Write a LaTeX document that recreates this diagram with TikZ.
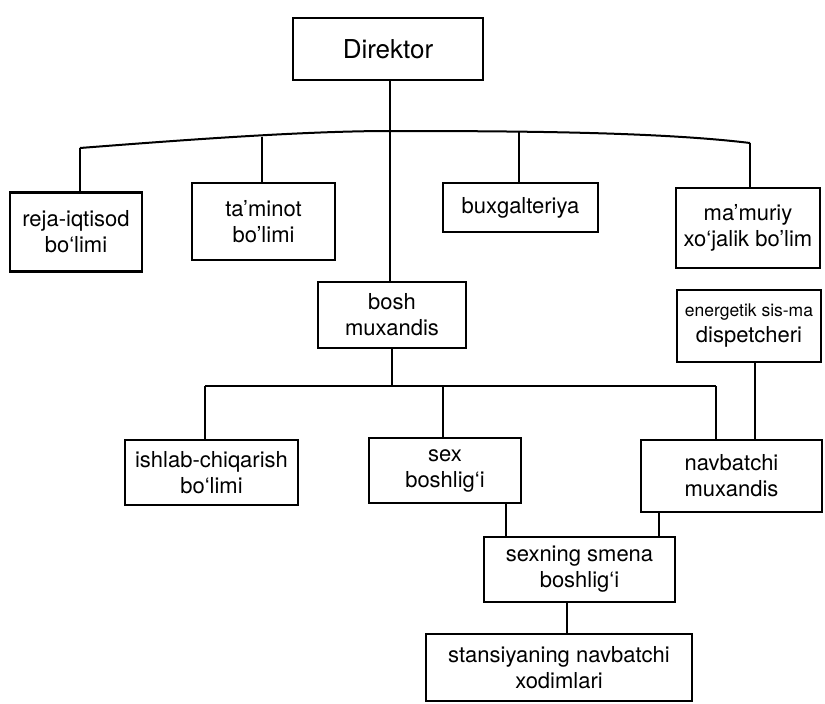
\documentclass[tikz,border=0pt]{standalone}
\usepackage{fontspec}
\setmainfont{TeX Gyre Heros}
\begin{document}
\begin{tikzpicture}[x=1pt,y=-1pt,
  box/.style={draw=black,line width=2.6pt,align=center,inner sep=0pt,font=\fontsize{22}{26}\selectfont},
  conn/.style={draw=black,line width=2pt}]
\useasboundingbox[fill=white] (0,0) rectangle (825,704);
% boxes
\node[box,minimum width=190,minimum height=62,font=\fontsize{26}{30}\selectfont] (dir) at (388,49) {Direktor};
\node[box,minimum width=132,minimum height=79] (reja) at (76,232) {reja-iqtisod\\bo‘limi};
\node[box,minimum width=143,minimum height=77] (tam) at (263.5,221.5) {ta'minot\\bo'limi};
\node[box,minimum width=155,minimum height=49] (bux) at (520.5,207.5) {buxgalteriya};
\node[box,minimum width=144,minimum height=80] (mam) at (748,228) {ma'muriy\\xo‘jalik bo'lim};
\node[box,minimum width=148,minimum height=66] (bosh) at (392,315) {bosh\\muxandis};
\node[box,minimum width=144,minimum height=72] (ener) at (749,326) {{\fontsize{17.5}{22}\selectfont energetik sis-ma}\\dispetcheri};
\node[box,minimum width=173,minimum height=65] (ish) at (211.5,472.5) {ishlab-chiqarish\\bo‘limi};
\node[box,minimum width=152,minimum height=65] (sex) at (445,470.5) {sex\\boshlig‘i};
\node[box,minimum width=181,minimum height=72] (nav) at (731.5,476) {navbatchi\\muxandis};
\node[box,minimum width=191,minimum height=65] (smena) at (579.5,569.5) {sexning smena\\boshlig‘i};
\node[box,minimum width=266,minimum height=67] (stan) at (559,667.5) {stansiyaning navbatchi\\xodimlari};
% bus 1
\coordinate (b1a) at (80,148);
\coordinate (b1b) at (262,137);
\coordinate (b1c) at (390,131);
\coordinate (b1d) at (519,131);
\coordinate (b1e) at (750,143);
\draw[conn] (b1a) .. controls (170,141) and (300,131) .. (b1c) .. controls (520,131) and (660,132) .. (b1e);
\draw[conn] (b1a) -- (b1a |- reja.north);
\draw[conn] (b1b) -- (b1b |- tam.north);
\draw[conn] (b1d) -- (b1d |- bux.north);
\draw[conn] (b1e) -- (b1e |- mam.north);
\coordinate (dtop) at (390,80);
\draw[conn] (dtop) -- (dtop |- bosh.north);
% bus 2
\coordinate (b2m) at (392,386);
\coordinate (b2a) at (205,386);
\coordinate (b2b) at (443,386);
\coordinate (b2c) at (716,386);
\draw[conn] (bosh.south) -- (b2m);
\draw[conn] (b2a) -- (b2c);
\draw[conn] (b2a) -- (b2a |- ish.north);
\draw[conn] (b2b) -- (b2b |- sex.north);
\draw[conn] (b2c) -- (b2c |- nav.north);
\coordinate (ex) at (755,362);
\draw[conn] (ex) -- (ex |- nav.north);
\coordinate (sx) at (506,503);
\draw[conn] (sx) -- (sx |- smena.north);
\coordinate (nx) at (659,512);
\draw[conn] (nx) -- (nx |- smena.north);
\coordinate (mx) at (567,602);
\draw[conn] (mx) -- (mx |- stan.north);
\end{tikzpicture}
\end{document}
